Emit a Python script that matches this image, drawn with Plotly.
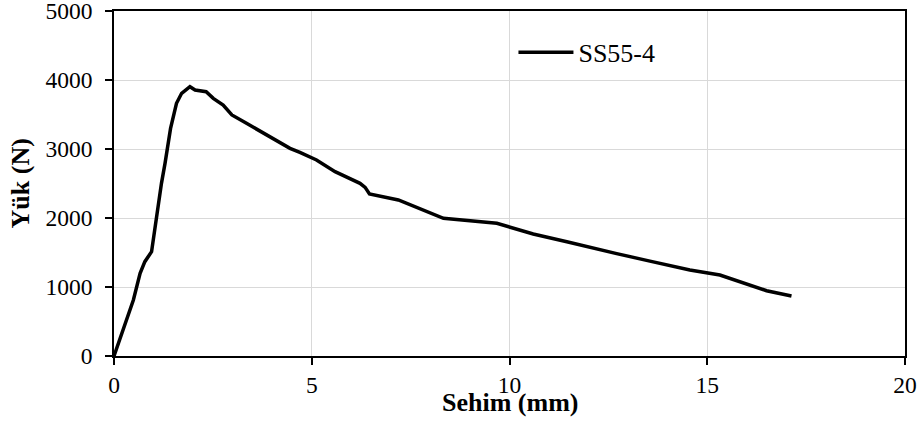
import plotly.graph_objects as go

# Sehim (deflection, mm) and Yük (load, N)
sehim = [0.0, 0.49, 0.66, 0.78, 0.95, 1.04, 1.15, 1.20, 1.29, 1.43, 1.58, 1.71, 1.92,
         2.05, 2.33, 2.51, 2.76, 2.98, 3.35, 3.78, 4.11, 4.45, 4.70, 5.12, 5.59,
         6.22, 6.35, 6.46, 7.19, 7.65, 8.33, 9.68, 10.01, 10.6, 11.45, 12.12,
         12.71, 13.55, 14.56, 15.32, 15.83, 16.5, 17.13]
yuk = [0, 812, 1198, 1367, 1512, 1875, 2333, 2502, 2792, 3299, 3662, 3807, 3903,
       3855, 3831, 3734, 3638, 3493, 3372, 3227, 3130, 3010, 2950, 2841, 2671,
       2502, 2444, 2348, 2261, 2154, 1995, 1923, 1865, 1768, 1657, 1560,
       1483, 1375, 1246, 1174, 1077, 946, 870]

series_name = "SS55-4"
x_ticks = [0, 5, 10, 15, 20]
y_ticks = [0, 1000, 2000, 3000, 4000, 5000]
x_title = "Sehim (mm)"
y_title = "Yük (N)"

FONT = "Times New Roman, Liberation Serif, serif"
TICK_SIZE = 23.5
TEXT_SIZE = 26

fig = go.Figure()
fig.add_trace(go.Scatter(x=sehim, y=yuk, mode="lines", name=series_name,
                         line=dict(color="black", width=3.5)))

axis_common = dict(showline=True, linecolor="black", linewidth=1.5, mirror=True,
                   showgrid=True, gridcolor="#d9d9d9", gridwidth=1,
                   ticks="outside", ticklen=7, tickcolor="black", tickwidth=1.5,
                   zeroline=False, automargin=False, ticklabeloverflow="allow",
                   tickfont=dict(family=FONT, size=TICK_SIZE, color="black"))

fig.update_xaxes(range=[0, 20], tickvals=x_ticks, **axis_common)
fig.update_yaxes(range=[0, 5000], tickvals=y_ticks, ticklabelstandoff=8, **axis_common)

fig.update_layout(
    width=923, height=425,
    margin=dict(l=114, r=18, t=11, b=69),
    plot_bgcolor="white", paper_bgcolor="white",
    font=dict(family=FONT, size=TEXT_SIZE, color="black"),
    showlegend=True,
    legend=dict(x=0.505, y=0.948, xanchor="left", yanchor="top",
                bgcolor="rgba(0,0,0,0)", itemwidth=55,
                font=dict(family=FONT, size=TEXT_SIZE, color="black")),
    annotations=[
        dict(text="<b>" + x_title + "</b>", xref="paper", yref="paper",
             x=0.5, y=-0.136, xanchor="center", yanchor="middle",
             showarrow=False, font=dict(family=FONT, size=TEXT_SIZE, color="black")),
        dict(text="<b>" + y_title + "</b>", xref="paper", yref="paper",
             x=-0.1176, y=0.5, xanchor="center", yanchor="middle", textangle=-90,
             showarrow=False, font=dict(family=FONT, size=TEXT_SIZE, color="black")),
    ],
)

fig.write_html("out.html")
